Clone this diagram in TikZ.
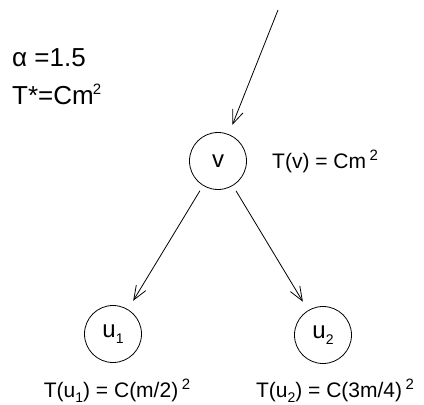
\documentclass[tikz,border=0pt]{standalone}
\usepackage{fontspec}
\setmainfont{Liberation Sans}
\usetikzlibrary{arrows.meta}
\newcommand{\supr}[1]{\raisebox{0.38em}{\fontsize{15}{15}\selectfont #1}}
\newcommand{\subr}[1]{\raisebox{-0.25em}{\fontsize{14}{14}\selectfont #1}}
\begin{document}
\begin{tikzpicture}[x=1pt,y=-1pt,
  vert/.style={circle, draw, line width=0.8pt, minimum size=57pt, inner sep=0pt, font=\fontsize{24}{28}\selectfont},
  edge/.style={line width=0.8pt, -{Straight Barb[length=14pt,width=11pt,line width=0.8pt]}},
  lbl/.style={inner sep=0pt, font=\fontsize{21}{25}\selectfont},
  big/.style={inner sep=0pt, font=\fontsize{26}{30}\selectfont}]
\useasboundingbox (0,0) rectangle (424,405);
\node[vert] (v) at (218,161) {v};
\node[vert] (u1) at (113,334) {u\subr{1}};
\node[vert] (u2) at (323,335) {u\subr{2}};
\coordinate (top) at (278,10);
\node[lbl, anchor=base west] (tv) at (272,168) {T(v) = Cm\,\supr{2}};
\node[lbl, anchor=base] (tu1) at (117,397) {T(u\subr{1}) = C(m/2)\,\supr{2}};
\node[lbl, anchor=base] (tu2) at (335,397) {T(u\subr{2}) = C(3m/4)\,\supr{2}};
\node[big, anchor=base west] (alpha) at (12,66) {α =1.5};
\node[big, anchor=base west] (tstar) at (12,104) {T*=Cm\kern-1pt\supr{2}};
\draw[edge, shorten >=10pt] (top) -- (v);
\draw[edge, shorten <=6pt, shorten >=10pt] (v) -- (u1);
\draw[edge, shorten <=6pt, shorten >=10pt] (v) -- (u2);
\end{tikzpicture}
\end{document}
